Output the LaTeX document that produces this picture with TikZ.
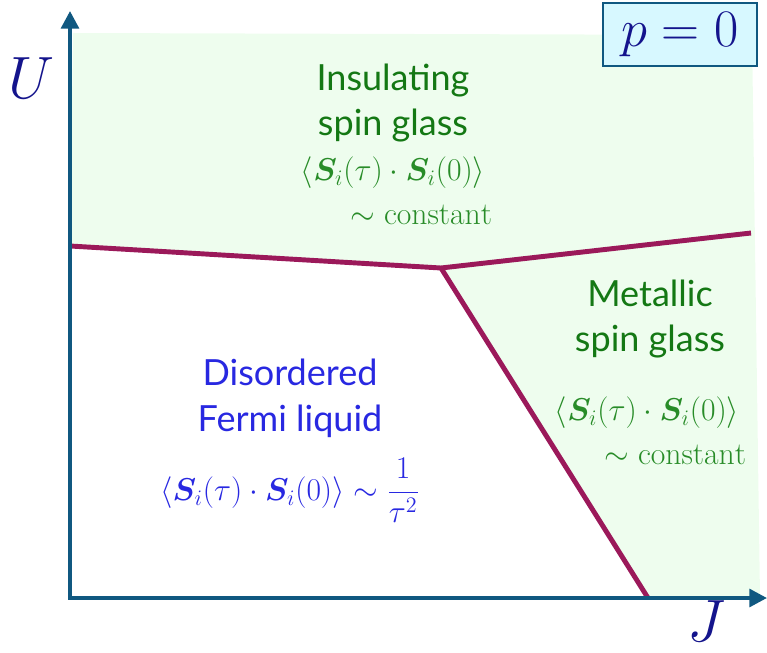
\documentclass[tikz,border=0pt]{standalone}
\usepackage{fix-cm}
\usepackage{amsmath,bm}
\usepackage{fontspec}
\setsansfont{Lato}
\usetikzlibrary{arrows.meta,positioning}
\definecolor{AxisBlue}{RGB}{16,88,128}
\definecolor{LineMag}{RGB}{155,25,90}
\definecolor{GlassFill}{RGB}{238,253,238}
\definecolor{GlassGreen}{RGB}{20,120,20}
\definecolor{CorrGreen}{RGB}{40,140,40}
\definecolor{FermiBlue}{RGB}{40,40,225}
\definecolor{LabelNavy}{RGB}{20,20,140}
\definecolor{BoxFill}{RGB}{215,248,255}
\tikzset{
  axis/.style={line width=2.2pt,color=AxisBlue,
               {Triangle[length=10pt,width=10pt]}-{Triangle[length=10pt,width=10pt]}},
  bnd/.style={line width=2.8pt,color=LineMag},
  phase/.style={align=center,font=\sffamily\fontsize{20.5}{26}\selectfont},
  corr/.style={font=\fontsize{18}{21}\selectfont,inner sep=1pt},
  axlabel/.style={text=LabelNavy,inner sep=0pt,font=\fontsize{34}{40}\selectfont},
}

\begin{document}
\begin{tikzpicture}[node distance=0.3cm]
  \useasboundingbox (0,0) rectangle (15.34,-13.06);
  % corners of the phase boundaries
  \coordinate (left)  at (1.40,-4.92);
  \coordinate (tri)   at (8.82,-5.36);
  \coordinate (right) at (15.02,-4.66);
  \coordinate (bot)   at (12.96,-11.96);
  \coordinate (utop)  at (1.40,-0.22);
  \coordinate (jend)  at (15.34,-11.96);

  % spin glass region
  \fill[GlassFill] (1.46,-0.66) -- (15.04,-0.70) -- (15.20,-11.96)
    -- (bot) -- (tri) -- (left) -- cycle;

  \draw[bnd] (left) -- (tri) -- (right);
  \draw[bnd] (tri) -- (bot);
  \draw[axis] (utop) |- (jend);

  \node[axlabel] (ulab) at (0.62,-1.56) {$U$};
  \node[axlabel] (jlab) at (14.12,-12.42) {$J$};
  \node[draw=AxisBlue,fill=BoxFill,line width=1.5pt,minimum width=3.08cm,
        minimum height=1.26cm,text=LabelNavy,font=\fontsize{30}{36}\selectfont]
        (pbox) at (13.60,-0.69) {$p=0$};

  % insulating spin glass
  \node[phase,text=GlassGreen] (ins) at (7.86,-2.06) {Insulating\\spin glass};
  \node[corr,text=CorrGreen,below=0.12cm of ins] (insc)
    {$\langle\bm{S}_i(\tau)\cdot\bm{S}_i(0)\rangle$};
  \node[corr,text=CorrGreen,below left=0.24cm and -0.14cm of insc.south east] (insk)
    {$\sim\mathrm{constant}$};

  % metallic spin glass
  \node[phase,text=GlassGreen] (met) at (13.00,-6.38) {Metallic\\spin glass};
  \node[corr,text=CorrGreen,below=0.6cm of met,xshift=-0.06cm] (metc)
    {$\langle\bm{S}_i(\tau)\cdot\bm{S}_i(0)\rangle$};
  \node[corr,text=CorrGreen,below left=0.24cm and -0.14cm of metc.south east] (metk)
    {$\sim\mathrm{constant}$};

  % disordered Fermi liquid
  \node[phase,text=FermiBlue] (fermi) at (5.80,-7.97) {Disordered\\Fermi liquid};
  \node[corr,text=FermiBlue,below=0.25cm of fermi] (fermic)
    {$\langle\bm{S}_i(\tau)\cdot\bm{S}_i(0)\rangle\sim\dfrac{1}{\tau^2}$};
\end{tikzpicture}
\end{document}
